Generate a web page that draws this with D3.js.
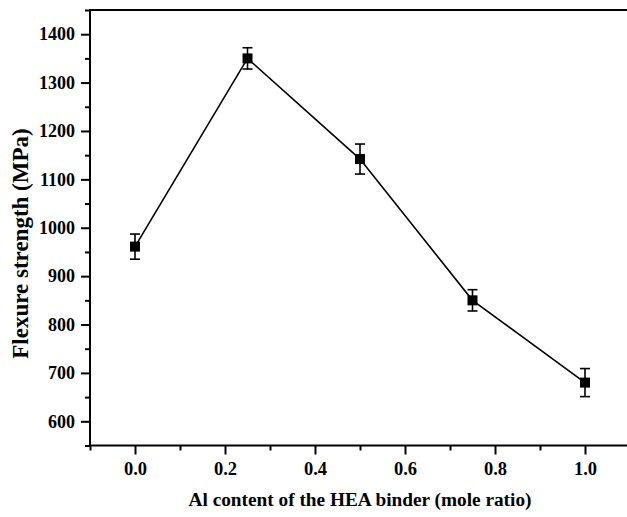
<!DOCTYPE html>
<html>
<head>
<meta charset="utf-8">
<script src="https://cdn.jsdelivr.net/npm/d3@7"></script>
<style>
  html, body { margin: 0; padding: 0; background: #fff; }
  svg { display: block; }
</style>
</head>
<body>
<svg id="chart" width="627" height="517"></svg>
<script>
// Flexure strength vs. Al content of the HEA binder
const alContent = [0.0, 0.25, 0.5, 0.75, 1.0];
const strength = [961, 1350, 1142, 850, 680];
const strengthErr = [26, 22, 31, 22, 29];
const xTicks = [0.0, 0.2, 0.4, 0.6, 0.8, 1.0];
const yTicks = [600, 700, 800, 900, 1000, 1100, 1200, 1300, 1400];
const xMinorTicks = [-0.1, 0.1, 0.3, 0.5, 0.7, 0.9, 1.1];
const yMinorTicks = [550, 650, 750, 850, 950, 1050, 1150, 1250, 1350, 1450];
const xTitle = "Al content of the HEA binder (mole ratio)";
const yTitle = "Flexure strength (MPa)";

const FONT = "'Liberation Serif', 'Times New Roman', Times, 'DejaVu Serif', serif";

const svg = d3.select("#chart");
const plotLeft = 90, plotRight = 630, plotTop = 10, plotBottom = 445.5;

const x = d3.scaleLinear().domain([-0.1, 1.1]).range([plotLeft, plotRight]);
const y = d3.scaleLinear().domain([550, 1450]).range([plotBottom, plotTop]);

// frame
svg.append("rect")
  .attr("x", plotLeft).attr("y", plotTop)
  .attr("width", plotRight - plotLeft).attr("height", plotBottom - plotTop)
  .attr("fill", "none").attr("stroke", "#000").attr("stroke-width", 2);

// x axis
const gx = svg.append("g").attr("transform", `translate(0,${plotBottom})`);
gx.call(d3.axisBottom(x).tickValues(xMinorTicks).tickSize(5).tickFormat(""));
gx.append("g").call(d3.axisBottom(x).tickValues(xTicks).tickSize(9).tickPadding(7).tickFormat(d3.format(".1f")));
gx.selectAll(".domain").remove();
gx.selectAll("line").attr("stroke", "#000").attr("stroke-width", 2);
gx.selectAll("text").attr("font-size", 18.5).attr("fill", "#000")
  .attr("font-family", FONT).attr("font-weight", "bold");

// y axis
const gy = svg.append("g").attr("transform", `translate(${plotLeft},0)`);
gy.call(d3.axisLeft(y).tickValues(yMinorTicks).tickSize(5).tickFormat(""));
gy.append("g").call(d3.axisLeft(y).tickValues(yTicks).tickSize(9).tickPadding(6).tickFormat(d3.format("d")));
gy.selectAll(".domain").remove();
gy.selectAll("line").attr("stroke", "#000").attr("stroke-width", 2);
gy.selectAll("text").attr("font-size", 18).attr("fill", "#000")
  .attr("font-family", FONT).attr("font-weight", "bold");

// axis titles
svg.append("text")
  .attr("x", (plotLeft + plotRight) / 2).attr("y", 506)
  .attr("text-anchor", "middle").attr("font-size", 19.3)
  .attr("font-family", FONT).attr("font-weight", "bold")
  .text(xTitle);
svg.append("text")
  .attr("transform", `translate(28,243.5) rotate(-90)`)
  .attr("text-anchor", "middle").attr("font-size", 23)
  .attr("font-family", FONT).attr("font-weight", "bold")
  .text(yTitle);

// connecting line
const pts = alContent.map((a, i) => ({ a, v: strength[i], e: strengthErr[i] }));
svg.append("path")
  .datum(pts)
  .attr("fill", "none").attr("stroke", "#000").attr("stroke-width", 1.6)
  .attr("d", d3.line().x(d => x(d.a)).y(d => y(d.v)));

// error bars
const eb = svg.append("g").attr("stroke", "#000").attr("stroke-width", 1.6);
pts.forEach(d => {
  const cx = x(d.a);
  eb.append("line").attr("x1", cx).attr("x2", cx).attr("y1", y(d.v + d.e)).attr("y2", y(d.v - d.e));
  eb.append("line").attr("x1", cx - 5).attr("x2", cx + 5).attr("y1", y(d.v + d.e)).attr("y2", y(d.v + d.e));
  eb.append("line").attr("x1", cx - 5).attr("x2", cx + 5).attr("y1", y(d.v - d.e)).attr("y2", y(d.v - d.e));
});

// square markers
svg.append("g").selectAll("rect")
  .data(pts).join("rect")
  .attr("x", d => x(d.a) - 5).attr("y", d => y(d.v) - 5)
  .attr("width", 10).attr("height", 10)
  .attr("fill", "#000");
</script>
</body>
</html>
